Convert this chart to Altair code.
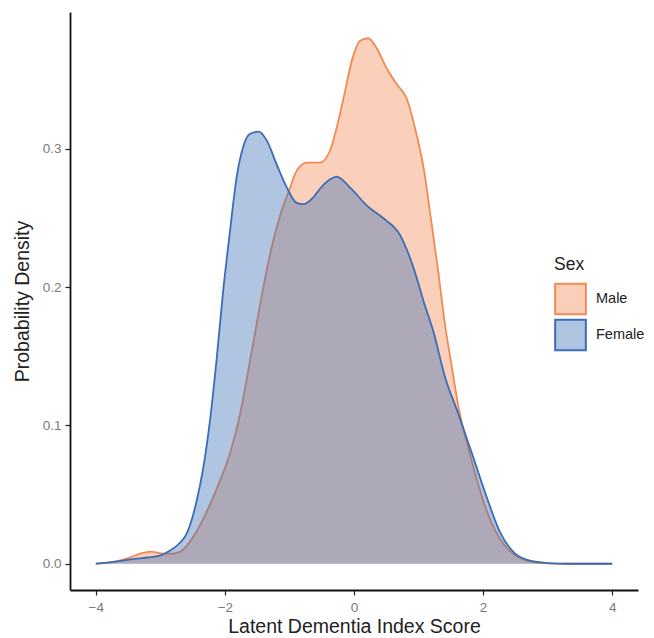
import altair as alt
import pandas as pd

# Density curves
male_x = [-4.0, -3.7, -3.5, -3.3, -3.15, -3.0, -2.85, -2.70, -2.54, -2.34, -2.13, -1.92,
          -1.77, -1.61, -1.46, -1.30, -1.15, -0.99, -0.89, -0.73, -0.53, -0.37, -0.27,
          -0.17, -0.02, 0.09, 0.22, 0.35, 0.51, 0.66, 0.82, 0.93, 1.09, 1.19, 1.30,
          1.41, 1.52, 1.62, 1.78, 1.94, 2.10, 2.26, 2.48, 2.74, 3.0, 3.3, 4.0]
male_y = [0.0, 0.0015, 0.004, 0.0075, 0.0088, 0.0075, 0.0072, 0.0086, 0.016, 0.032, 0.054, 0.080,
          0.107, 0.147, 0.186, 0.224, 0.251, 0.272, 0.284, 0.290, 0.290, 0.299, 0.315,
          0.335, 0.366, 0.378, 0.380, 0.373, 0.358, 0.347, 0.336, 0.318, 0.283, 0.250, 0.213,
          0.173, 0.141, 0.113, 0.082, 0.055, 0.033, 0.018, 0.0066, 0.0016, 0.0003, 0.0, 0.0]

female_x = [-4.0, -3.7, -3.4, -3.2, -3.0, -2.85, -2.7, -2.59, -2.44, -2.34, -2.23, -2.13,
            -2.03, -1.92, -1.82, -1.72, -1.61, -1.48, -1.35, -1.20, -1.04, -0.89, -0.79,
            -0.63, -0.53, -0.37, -0.27, -0.06, 0.2, 0.45, 0.71, 0.93, 1.09, 1.23, 1.41,
            1.62, 1.84, 2.05, 2.26, 2.48, 2.74, 3.0, 3.3, 4.0]
female_y = [0.0, 0.0015, 0.0035, 0.0045, 0.006, 0.0096, 0.015, 0.022, 0.045, 0.068, 0.104, 0.147,
            0.196, 0.241, 0.279, 0.301, 0.311, 0.3125, 0.306, 0.289, 0.272, 0.261, 0.260,
            0.265, 0.271, 0.278, 0.280, 0.272, 0.259, 0.250, 0.238, 0.213, 0.188, 0.168, 0.135,
            0.108, 0.078, 0.049, 0.023, 0.008, 0.002, 0.0005, 0.0, 0.0]

sexes = ["Male", "Female"]
line_colors = ["#F28A54", "#3A6DB5"]
x_ticks = [-4, -2, 0, 2, 4]
y_ticks = [0.0, 0.1, 0.2, 0.3]

df = pd.concat([
    pd.DataFrame({"score": male_x, "density": male_y, "Sex": "Male"}),
    pd.DataFrame({"score": female_x, "density": female_y, "Sex": "Female"}),
], ignore_index=True)
df["SexLine"] = df["Sex"]

FONT = "Liberation Sans"

x_enc = alt.X("score:Q", scale=alt.Scale(domain=[-4.4, 4.4], nice=False, zero=False),
              axis=alt.Axis(values=x_ticks, format="d", title="Latent Dementia Index Score",
                            labelPadding=5, titlePadding=4))
y_enc = alt.Y("density:Q", scale=alt.Scale(domain=[-0.019, 0.399], nice=False, zero=False),
              axis=alt.Axis(values=y_ticks, format=".1f", title="Probability Density",
                            labelPadding=4, titlePadding=10))

common = dict(title="Sex", orient="none", legendX=484, legendY=244,
              symbolType="square", symbolSize=940, symbolStrokeWidth=2,
              titleFontSize=17.5, titleFontWeight="normal",
              titleFont=FONT, labelFont=FONT, labelFontSize=14.5,
              titlePadding=9, labelOffset=9, rowPadding=-6)
# fill part of the legend (translucent squares, with title and labels)
legend_fill = alt.Legend(symbolOpacity=0.4, symbolStrokeColor="transparent",
                         titleColor="#222222", labelColor="#222222", **common)
# outline part of the legend, drawn on top at the same place
legend_stroke = alt.Legend(symbolFillColor="transparent",
                           titleColor="transparent", labelColor="transparent", **common)

fill_scale = alt.Scale(domain=sexes, range=line_colors)
stroke_scale = alt.Scale(range=line_colors)

base = alt.Chart(df)
layers = []
for s in sexes:
    sub = base.transform_filter(alt.datum.Sex == s)
    layers.append(sub.mark_area(fillOpacity=0.4, interpolate="monotone").encode(
        x=x_enc, y=y_enc, fill=alt.Fill("Sex:N", scale=fill_scale, legend=legend_fill)))
    layers.append(sub.mark_line(interpolate="monotone", strokeWidth=1.8).encode(
        x=x_enc, y=y_enc,
        stroke=alt.Stroke("SexLine:N", scale=stroke_scale, sort=sexes, legend=legend_stroke)))

chart = alt.layer(*layers).properties(
    width=568, height=578,
    autosize=alt.AutoSizeParams(type="none"),
    padding={"left": 62, "top": 4, "right": 8, "bottom": 48},
).configure_view(stroke=None).configure_axis(
    grid=False, domainColor="#111111", domainWidth=1.8, tickColor="#222222", tickWidth=1.2,
    tickSize=5, labelColor="#7a7a7a", labelFontSize=13.5, labelFont=FONT, titleFont=FONT,
    titleFontSize=19.5, titleFontWeight="normal", titleColor="#222222",
)

chart.save("out.html", embed_options={"renderer": "svg", "actions": False})
